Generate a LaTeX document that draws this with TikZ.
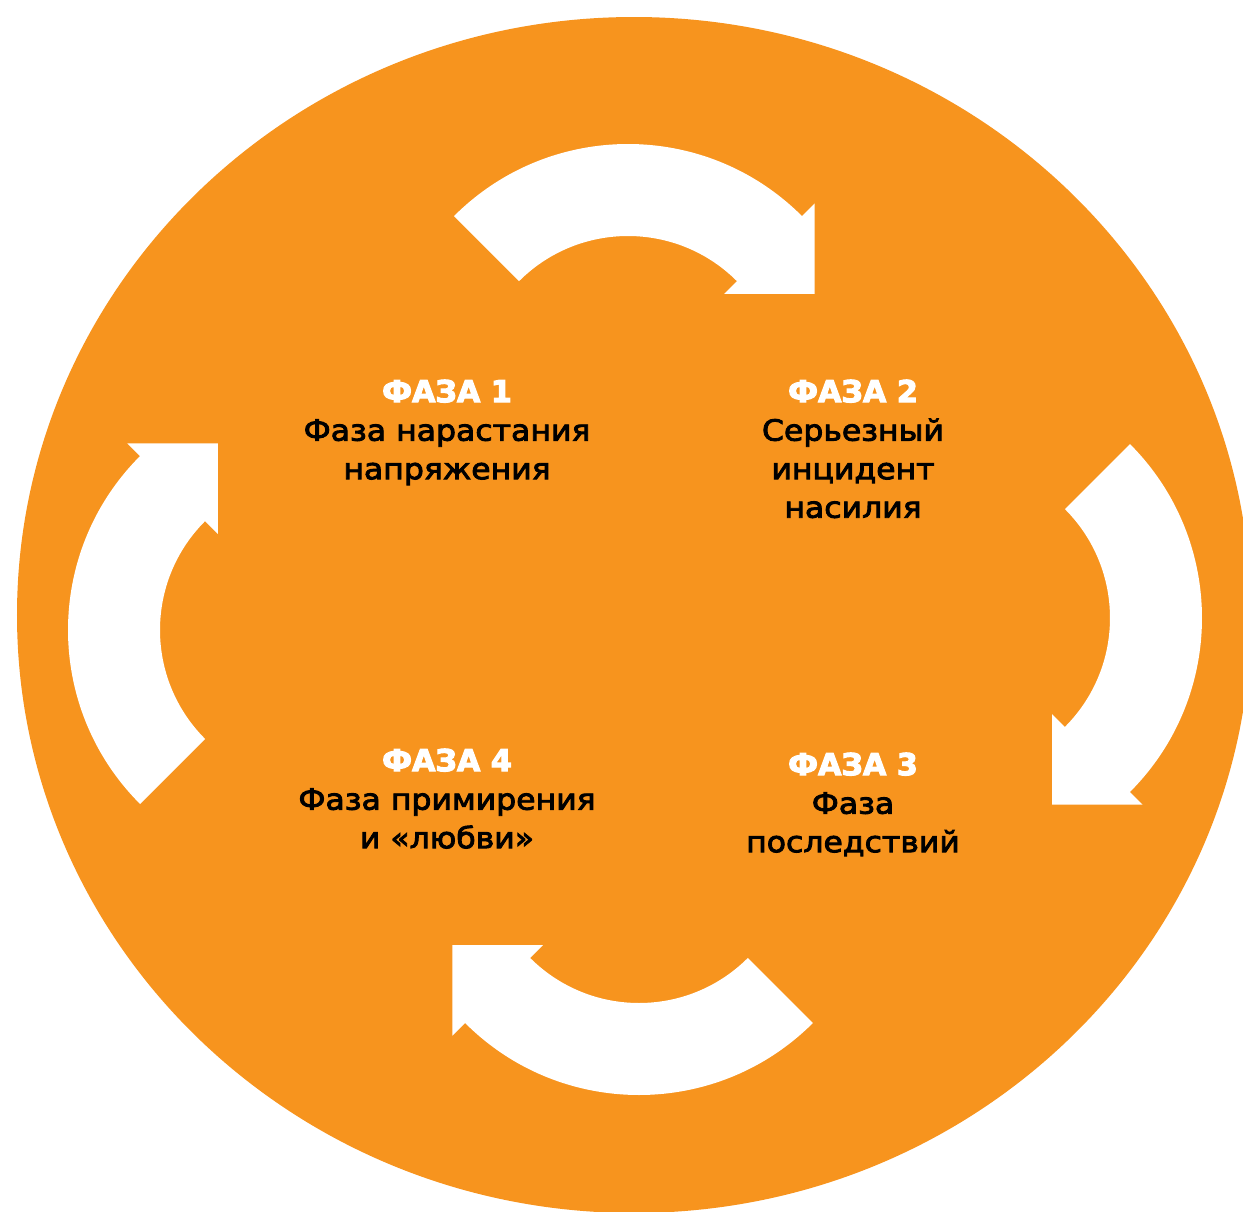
\documentclass[tikz,border=0pt]{standalone}
\usepackage{fontspec}
\setmainfont{DejaVu Sans}
\newfontfamily\bodyfont[FakeStretch=1.08,FakeBold=3]{DejaVu Sans}
\newfontfamily\headfont[FakeBold=3.5]{DejaVu Sans Bold}
\usepackage{xcolor}
\usepackage{tikz}
\usetikzlibrary{calc}

\definecolor{phaseorange}{HTML}{F7941E}

\tikzset{
  cyclearrow/.pic={
    \fill[white] (135:2.46) arc (135:45:2.46) -- (45:2.64)
      -- ($(45:2)+(-45:0.64)$) -- (45:1.36) -- (45:1.54)
      arc (45:135:1.54) -- cycle;
  },
  phaselabel/.style={align=center, anchor=north, inner sep=0pt,
    font=\bodyfont\fontsize{8.3}{10.96}\selectfont}
}
\newcommand{\phasehead}[1]{{\headfont\fontsize{8.6}{10.96}\selectfont\color{white}#1}}

\begin{document}
\begin{tikzpicture}
        \useasboundingbox (0,0) rectangle (12.43,-12.12);
        \clip (0,0) rectangle (12.43,-12.12);

        % Background disc
        \fill[phaseorange] (6.34,-6.15) ellipse (6.17cm and 5.98cm);

        % Cycle arrows
        \pic (arrowtop) at (6.28,-3.90) {cyclearrow};
        \pic[rotate=-90] (arrowright) at (9.56,-6.18) {cyclearrow};
        \pic[rotate=180] (arrowbottom) at (6.39,-8.49) {cyclearrow};
        \pic[rotate=90] (arrowleft) at (3.14,-6.30) {cyclearrow};

        % Phase labels
        \node[phaselabel] (phase1) at (4.47,-3.79)
          {\phasehead{ФАЗА 1}\\Фаза нарастания\\напряжения};
        \node[phaselabel] (phase2) at (8.53,-3.79)
          {\phasehead{ФАЗА 2}\\Серьезный\\инцидент\\насилия};
        \node[phaselabel] (phase3) at (8.53,-7.52)
          {\phasehead{ФАЗА 3}\\Фаза\\последствий};
        \node[phaselabel] (phase4) at (4.47,-7.48)
          {\phasehead{ФАЗА 4}\\Фаза примирения\\и «любви»};
\end{tikzpicture}
\end{document}
